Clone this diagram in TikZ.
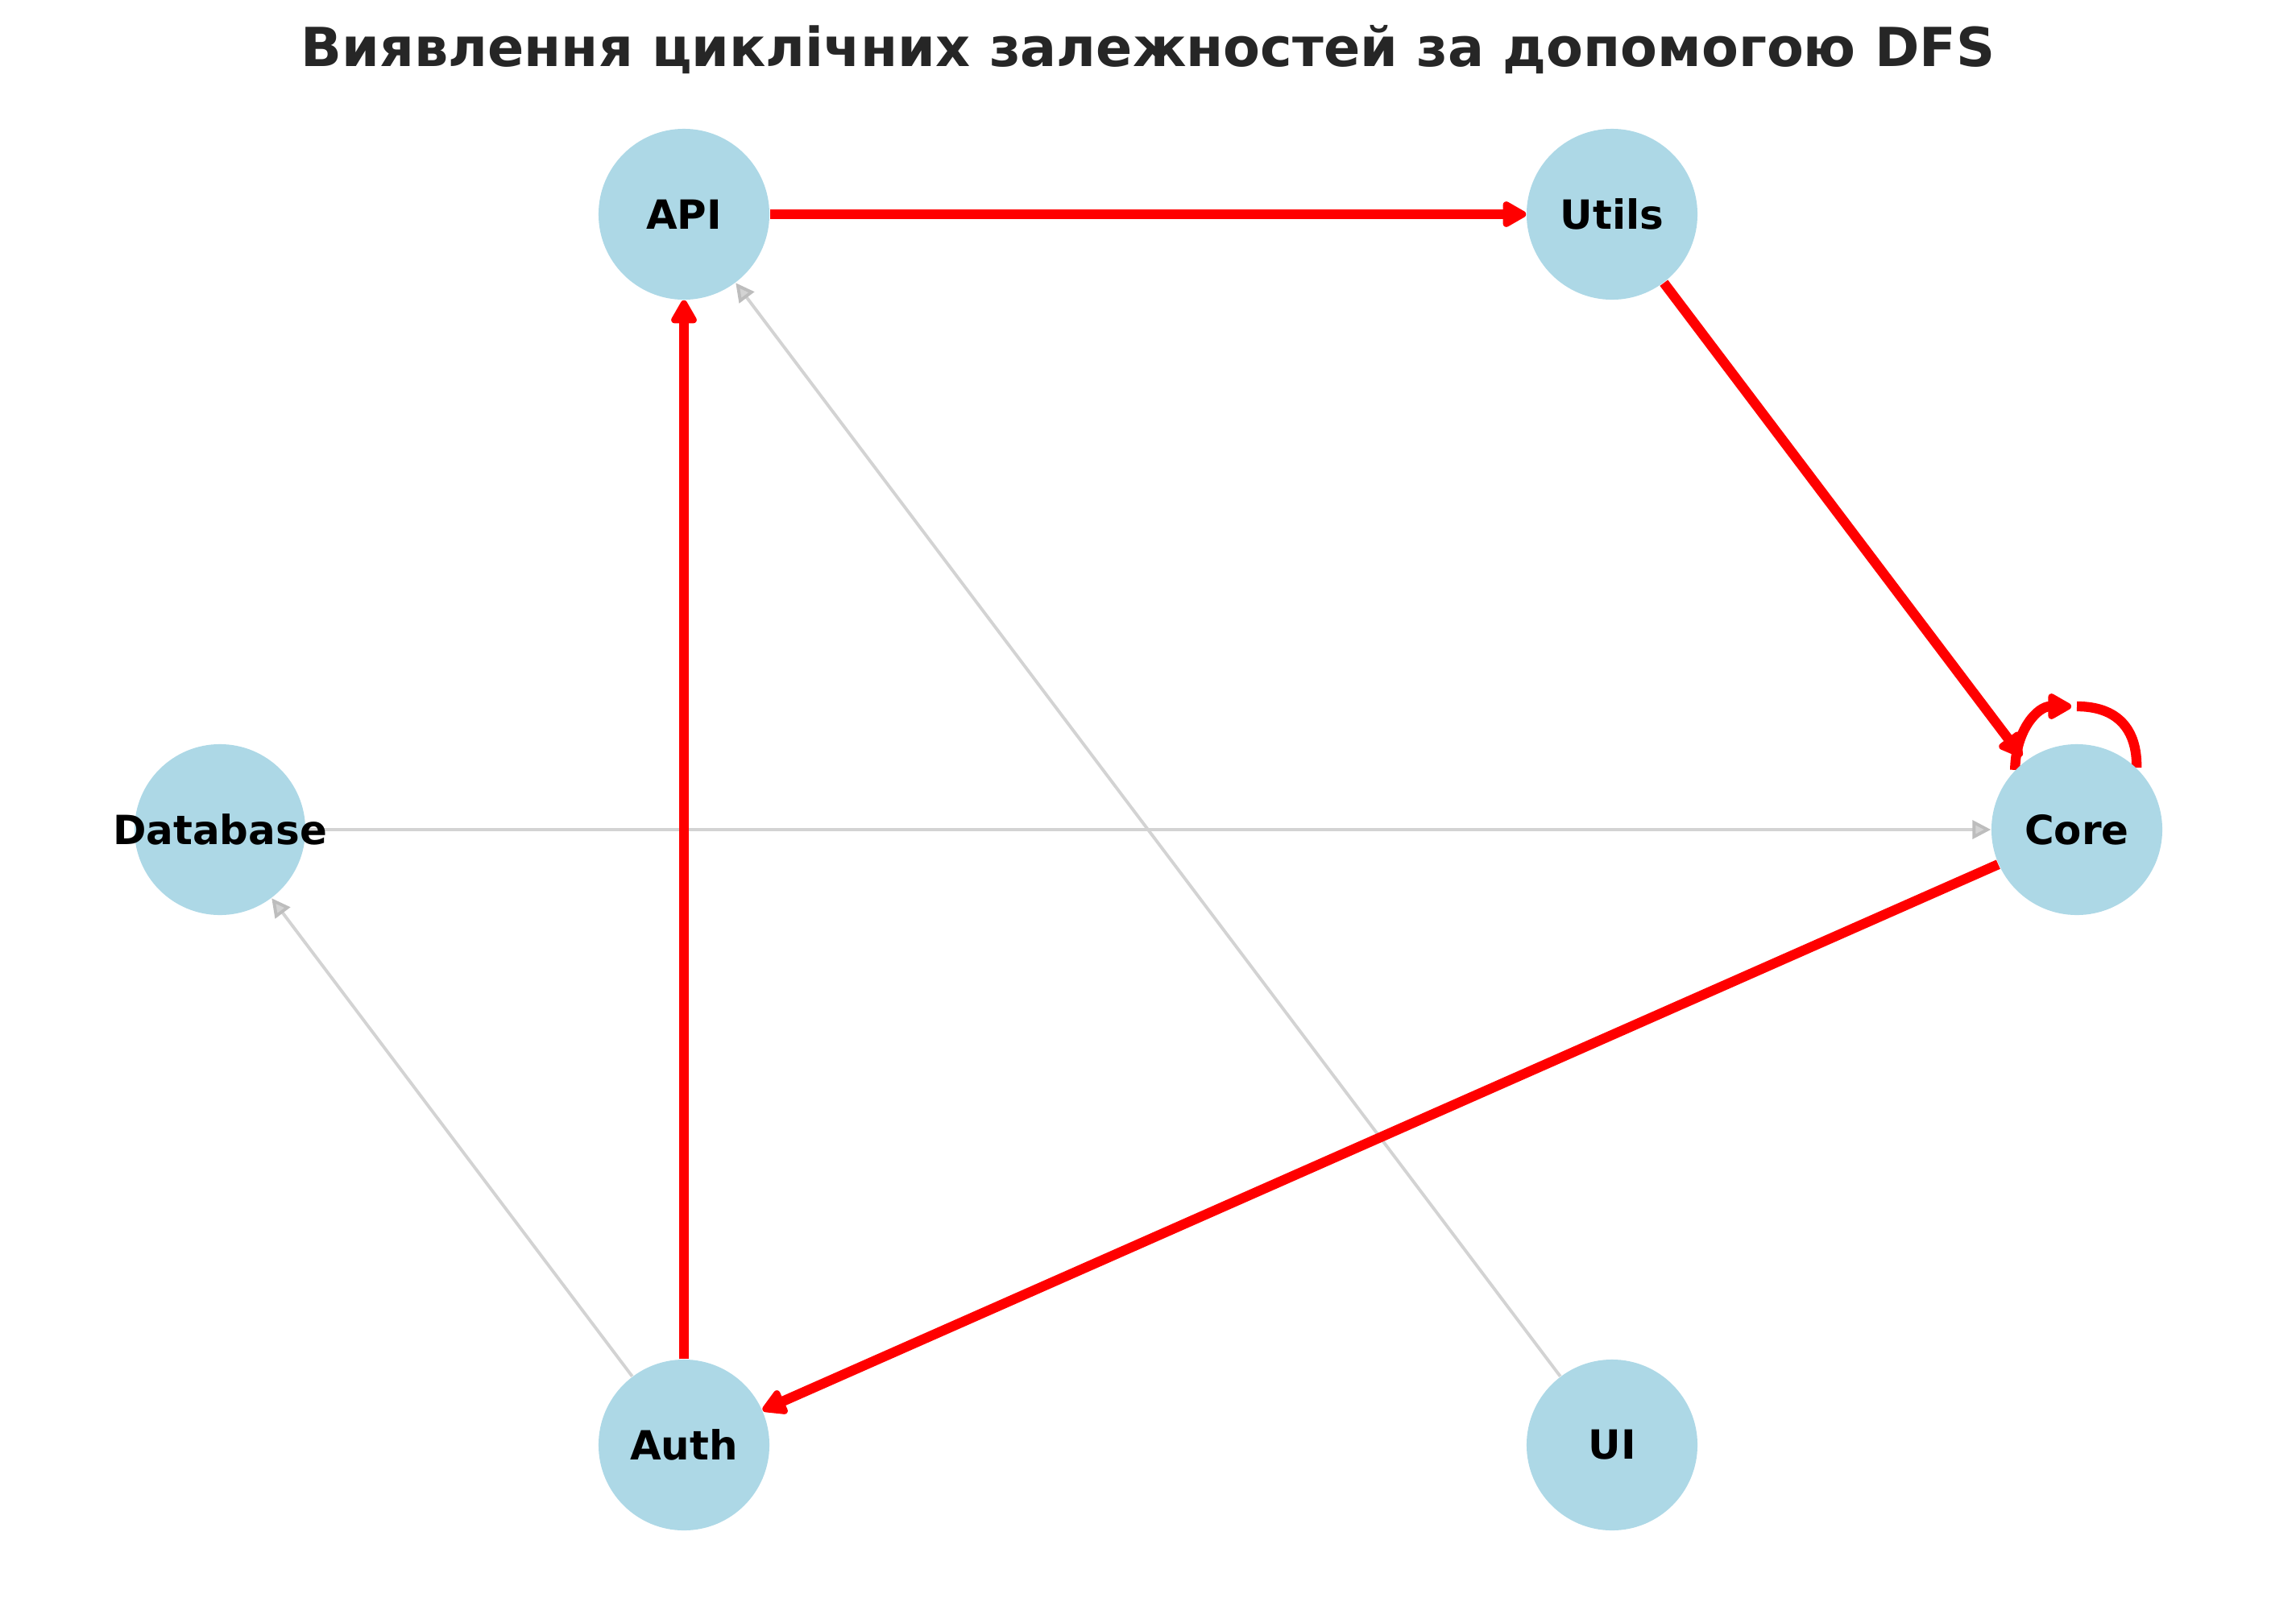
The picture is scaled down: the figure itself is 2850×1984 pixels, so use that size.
\documentclass[tikz,border=0pt]{standalone}
\usepackage{fontspec}
\setmainfont{DejaVu Sans}
\usetikzlibrary{arrows.meta,backgrounds}
\definecolor{nodeblue}{HTML}{ADD8E6}
\definecolor{titlegray}{HTML}{262626}
\definecolor{edgegray}{HTML}{D3D3D3}
\definecolor{tipgray}{HTML}{BDBDBD}
\begin{document}
\begin{tikzpicture}[x=0.01cm,y=-0.01cm,
  mod/.style={circle, fill=nodeblue, minimum size=2.12cm, inner sep=0pt,
    font=\fontsize{14.2}{16}\selectfont\bfseries, text=black},
  redge/.style={draw=red, line width=3.5pt, -{Triangle[length=9.5pt,width=10pt,round]}},
  rline/.style={draw=red, line width=3.5pt},
  gedge/.style={draw=edgegray, line width=1.1pt,
    -{Triangle[length=6.5pt,width=6.5pt,fill=edgegray,color=tipgray]}}]
\useasboundingbox (0,0) rectangle (2850,1984);
\node[font=\fontsize{19}{22}\selectfont\bfseries, text=titlegray, anchor=base] (title) at (1425,82)
  {Виявлення циклічних залежностей за допомогою DFS};
\node[mod] (api) at (849,266) {API};
\node[mod] (utils) at (2001,266) {Utils};
\node[mod] (core) at (2578,1030) {Core};
\node[mod] (db) at (273,1030) {\makebox[0pt]{Database}};
\node[mod] (auth) at (849,1794) {Auth};
\node[mod] (ui) at (2001,1794) {UI};
\coordinate (looptop) at (2571,877);
\coordinate (loopstart) at (2578,877);
\begin{scope}[on background layer]
  \draw[gedge] (db) -- (core);
  \draw[gedge] (auth) -- (db);
  \draw[gedge] (ui) -- (api);
  \draw[redge] (api) -- (utils);
  \draw[redge, shorten >=2pt] (utils) -- (core);
  \draw[redge] (core) -- (auth);
  \draw[redge] (auth) -- (api);
  \draw[redge] (core.136) .. controls (2502,905) and (2530,877) .. (looptop);
  \draw[rline] (loopstart) .. controls (2628,877) and (2653,905) .. (core.46);
\end{scope}
\end{tikzpicture}
\end{document}
